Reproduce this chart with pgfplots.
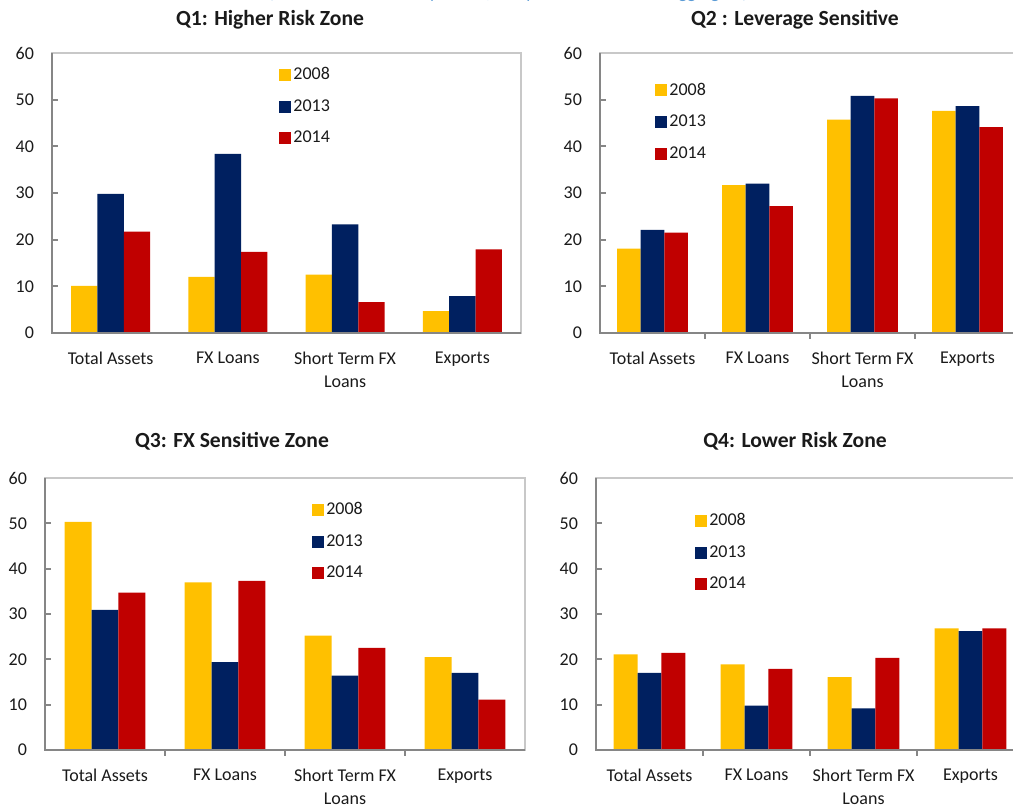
\documentclass[border=0pt]{standalone}
\usepackage{pgfplots}
\pgfplotsset{compat=1.18}
\usepackage{fontspec}
\setmainfont{Carlito}

\definecolor{c2008}{HTML}{FFC000}
\definecolor{c2013}{HTML}{002060}
\definecolor{c2014}{HTML}{C00000}
\definecolor{axisgray}{HTML}{868686}
\definecolor{boxgray}{HTML}{C8C8C8}
\definecolor{txt}{HTML}{1A1A1A}
\definecolor{topblue}{HTML}{5B9BD5}

\newcommand{\lbl}{\fontsize{9}{11.5}\selectfont}
\newcommand{\ttl}{\fontsize{10.8}{13}\selectfont\bfseries}

% Q1
\pgfplotstableread{
x y2008 y2013 y2014
0 10.1 29.8 21.7
1 12.0 38.4 17.4
2 12.5 23.3 6.6
3 4.7 7.9 17.9
}\qone
% Q2
\pgfplotstableread{
x y2008 y2013 y2014
0 18.1 22.1 21.5
1 31.7 32.0 27.2
2 45.7 50.8 50.3
3 47.6 48.6 44.1
}\qtwo
% Q3
\pgfplotstableread{
x y2008 y2013 y2014
0 50.3 30.9 34.7
1 37.0 19.4 37.3
2 25.2 16.4 22.5
3 20.5 17.0 11.1
}\qthree
% Q4
\pgfplotstableread{
x y2008 y2013 y2014
0 21.1 17.0 21.4
1 18.9 9.8 17.9
2 16.1 9.2 20.3
3 26.8 26.2 26.8
}\qfour

\pgfplotsset{
  zone/.style={
    scale only axis,
    anchor=north west,
    ybar=0pt, bar width=0.224,
    xmin=-0.5, xmax=3.5,
    ymin=0, ymax=60, ytick={0,10,...,60},
    xtick={0.5,1.5,2.5}, xticklabels={},
    extra x ticks={0,1,2,3},
    extra x tick labels={Total Assets, FX Loans, {Short Term FX\\Loans}, Exports},
    extra x tick style={major tick length=0pt},
    xticklabel style={align=center, font=\lbl, text=txt, yshift=-6pt},
    yticklabel style={font=\lbl, text=txt, xshift=-5.5pt},
    /pgf/number format/assume math mode=true,
    tick align=inside,
    ytick pos=left, xtick pos=bottom,
    xtick style={yshift=-3pt},
    major tick length=3pt,
    tick style={draw=axisgray, line width=1pt},
    axis line style={draw=boxgray, line width=1pt},
    legend style={draw=none, fill=none, font=\lbl, text=txt,
      anchor=north west, row sep=6.5pt, inner sep=0pt,
      nodes={inner sep=1pt}},
    legend cell align=left,
    legend image code/.code={\fill[##1] (0pt,-3pt) rectangle (6pt,3pt);},
    after end axis/.code={
      \draw[axisgray, line width=1.2pt] (rel axis cs:0,1) -- (rel axis cs:0,0) -- (rel axis cs:1,0);
    },
  },
  s08/.style={fill=c2008, draw=none},
  s13/.style={fill=c2013, draw=none},
  s14/.style={fill=c2014, draw=none},
}

\begin{document}
\begin{tikzpicture}

\node[anchor=base, text=topblue, font=\lbl] at (254pt,0.8pt)
  {(Shares of the zone in percent, compared to the sector aggregate)};

\node[font=\ttl, text=txt] at (135pt,-10pt) {Q1: Higher Risk Zone};
\node[font=\ttl, text=txt] at (397.5pt,-10pt) {Q2 : Leverage Sensitive};
\node[font=\ttl, text=txt] at (116pt,-220.5pt) {Q3: FX Sensitive Zone};
\node[font=\ttl, text=txt] at (397.5pt,-220.5pt) {Q4: Lower Risk Zone};

\begin{axis}[zone, at={(26pt,-26.5pt)}, width=234.5pt, height=140pt,
  xtick=\empty,
  legend style={at={(0.484,0.958)}}]
\addplot[s08] table[x=x, y=y2008] {\qone};
\addplot[s13] table[x=x, y=y2013] {\qone};
\addplot[s14] table[x=x, y=y2014] {\qone};
\legend{2008,2013,2014}
\end{axis}

\begin{axis}[zone, at={(300pt,-26.5pt)}, width=210pt, height=140pt,
  legend style={at={(0.131,0.902)}}]
\addplot[s08] table[x=x, y=y2008] {\qtwo};
\addplot[s13] table[x=x, y=y2013] {\qtwo};
\addplot[s14] table[x=x, y=y2014] {\qtwo};
\legend{2008,2013,2014}
\end{axis}

\begin{axis}[zone, at={(22.5pt,-239pt)}, width=240pt, height=136pt,
  legend style={at={(0.556,0.920)}}]
\addplot[s08] table[x=x, y=y2008] {\qthree};
\addplot[s13] table[x=x, y=y2013] {\qthree};
\addplot[s14] table[x=x, y=y2014] {\qthree};
\legend{2008,2013,2014}
\end{axis}

\begin{axis}[zone, at={(298pt,-239pt)}, width=214pt, height=136pt,
  legend style={at={(0.231,0.880)}}]
\addplot[s08] table[x=x, y=y2008] {\qfour};
\addplot[s13] table[x=x, y=y2013] {\qfour};
\addplot[s14] table[x=x, y=y2014] {\qfour};
\legend{2008,2013,2014}
\end{axis}

\pgfresetboundingbox
\path[use as bounding box] (0pt,0pt) rectangle (506.5pt,-403pt);
\end{tikzpicture}
\end{document}
